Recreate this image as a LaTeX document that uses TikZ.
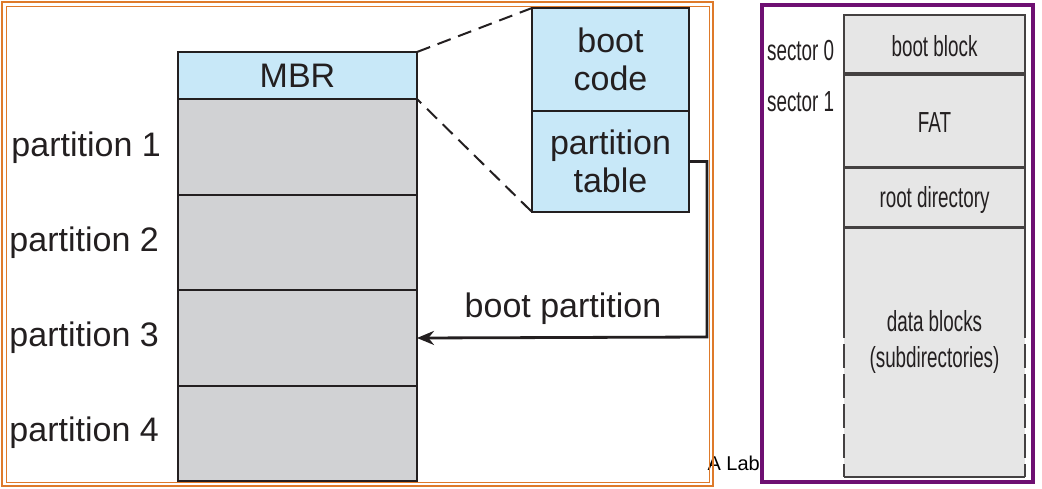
\documentclass[tikz,border=0pt]{standalone}
\usepackage{fontspec}
\setmainfont{Liberation Sans}
\usetikzlibrary{arrows.meta,calc}
\definecolor{mbrblue}{HTML}{C8E8F8}
\definecolor{partgray}{HTML}{D1D2D4}
\definecolor{fsgray}{HTML}{E6E6E6}
\definecolor{frameorange}{HTML}{DE7A2A}
\definecolor{framepurple}{HTML}{6E0F72}
\definecolor{ink}{HTML}{231F20}
\begin{document}
\begin{tikzpicture}[x=1pt,y=-1pt,
  bigtext/.style={font=\fontsize{34}{38}\selectfont, text=ink},
  smalltext/.style={font=\fontsize{29}{36}\selectfont, text=ink, xscale=0.65},
  blk/.style={draw=ink, line width=2.2pt, inner sep=0pt, outer sep=0pt, minimum width=239pt},
  zoomblk/.style={draw=ink, line width=2.2pt, inner sep=0pt, outer sep=0pt, minimum width=157pt, fill=mbrblue, align=center, bigtext},
  fsblk/.style={draw=ink!85, line width=1.6pt, inner sep=0pt, outer sep=0pt, minimum width=181pt, fill=fsgray},
  fsline/.style={ink!85, line width=1.6pt},
  dashline/.style={ink, line width=2pt, dash pattern=on 14pt off 8pt}
]
\useasboundingbox (0,0) rectangle (1042,488);
% "A Lab" text partly under frame
\node[anchor=east, font=\fontsize{20}{22}\selectfont, inner sep=0pt] (lab) at (760,463) {A Lab};
% left frame
\draw[frameorange, line width=2.5pt] (2,2) rectangle (713,486);
\draw[frameorange, line width=1pt] (6,6) rectangle (709,482);
% purple frame
\draw[framepurple, line width=4pt] (762,5) rectangle (1033,482);

% MBR column
\node[blk, fill=mbrblue, minimum height=47pt, bigtext] (mbr) at (297.5,75.5) {MBR};
\node[blk, fill=partgray, minimum height=96pt] (p1) at (297.5,147) {};
\node[blk, fill=partgray, minimum height=95pt] (p2) at (297.5,242.5) {};
\node[blk, fill=partgray, minimum height=96pt] (p3) at (297.5,338) {};
\node[blk, fill=partgray, minimum height=95pt] (p4) at (297.5,433.5) {};
\node[bigtext, anchor=east, inner sep=0pt] (l1) at (161,148) {partition 1};
\node[bigtext, anchor=east, inner sep=0pt] (l2) at (159,243) {partition 2};
\node[bigtext, anchor=east, inner sep=0pt] (l3) at (159,338) {partition 3};
\node[bigtext, anchor=east, inner sep=0pt] (l4) at (159,433) {partition 4};

% zoomed MBR
\node[zoomblk, minimum height=103pt] (bc) at (610.5,59.5) {boot\\code};
\node[zoomblk, minimum height=101pt] (pt) at (610.5,161.5) {partition\\table};
\draw[dashline] (mbr.north east) -- (bc.north west);
\draw[dashline, dash phase=8pt] (mbr.south east) -- (pt.south west);

% boot partition arrow
\coordinate (corner) at (707,337);
\draw[ink, line width=2.8pt, -{Stealth[length=17pt,width=14pt]}] (pt.east) -| (corner) -- (p3.east);
\node[bigtext, inner sep=0pt] (bp) at (563,309) {boot partition};

% FAT layout
\node[fsblk, minimum height=58pt] (bb) at (934.5,44) {};
\node[fsblk, minimum height=92pt] (fat) at (934.5,121) {};
\node[fsblk, minimum height=59pt] (rd) at (934.5,197.5) {};
\node[fill=fsgray, inner sep=0pt, outer sep=0pt, minimum width=181pt, minimum height=249pt] (db) at (934.5,352.5) {};
\draw[fsline] (db.north west) -- (db.north east);
\draw[fsline] (db.south west) -- (db.south east);
\draw[fsline] (db.north west) -- ($(db.north west)+(0,110)$);
\draw[fsline] (db.north east) -- ($(db.north east)+(0,110)$);
\draw[fsline, dash pattern=on 24pt off 6pt, dash phase=-6pt] ($(db.north west)+(0,110)$) -- (db.south west);
\draw[fsline, dash pattern=on 24pt off 6pt, dash phase=-6pt] ($(db.north east)+(0,110)$) -- (db.south east);
\node[smalltext] (tbb) at (934.5,46) {boot block};
\node[smalltext] (tfat) at (934.5,123) {FAT};
\node[smalltext] (trd) at (934.5,200) {root directory};
\node[smalltext, align=center] (tdb) at (934.5,342) {data blocks\\(subdirectories)};
\node[smalltext, anchor=west, inner sep=0pt] (s0) at (767,51) {sector 0};
\node[smalltext, anchor=west, inner sep=0pt] (s1) at (767,102) {sector 1};
\end{tikzpicture}
\end{document}
